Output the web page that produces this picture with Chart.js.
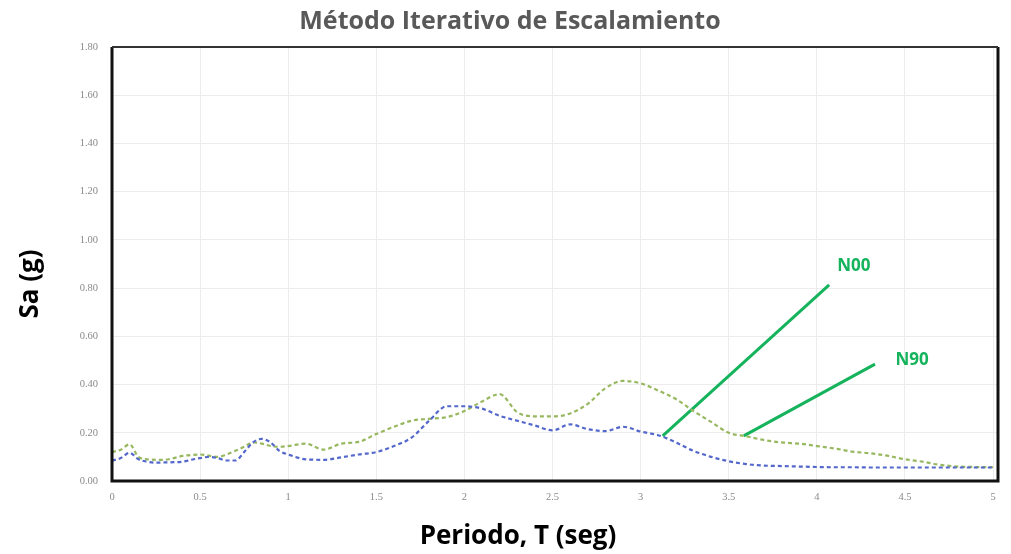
<!DOCTYPE html>
<html>
<head>
<meta charset="utf-8">
<script src="https://cdn.jsdelivr.net/npm/chart.js@4/dist/chart.umd.min.js"></script>
<style>
  html, body { margin: 0; padding: 0; background: #ffffff; }
  #wrap { width: 1011px; height: 554px; position: relative; }
</style>
</head>
<body>
<div id="wrap"><canvas id="chart" width="1011" height="554"></canvas></div>
<script>
// Periods (s)
const periods = [0, 0.05, 0.10, 0.15, 0.20, 0.25, 0.30, 0.35, 0.40, 0.45, 0.50, 0.55, 0.60, 0.65, 0.70, 0.75, 0.80, 0.85, 0.90, 0.95, 1.00,
  1.1, 1.2, 1.3, 1.4, 1.5, 1.6, 1.7, 1.8, 1.9, 2.0, 2.1, 2.2, 2.3, 2.4, 2.5, 2.6, 2.7, 2.8, 2.9, 3.0,
  3.1, 3.2, 3.3, 3.4, 3.5, 3.6, 3.7, 3.8, 3.9, 4.0, 4.1, 4.2, 4.3, 4.4, 4.5, 4.6, 4.7, 4.8, 4.9, 5.0];

// Spectral acceleration Sa (g), component N00
const saN00 = [0.085, 0.095, 0.117, 0.090, 0.080, 0.076, 0.077, 0.078, 0.080, 0.088, 0.095, 0.100, 0.095, 0.085, 0.085, 0.120, 0.160, 0.175, 0.160, 0.125, 0.110,
  0.090, 0.088, 0.098, 0.110, 0.120, 0.145, 0.180, 0.250, 0.310, 0.310, 0.300, 0.270, 0.250, 0.230, 0.210, 0.235, 0.215, 0.207, 0.225, 0.205,
  0.190, 0.160, 0.125, 0.100, 0.082, 0.070, 0.064, 0.062, 0.060, 0.058, 0.057, 0.057, 0.056, 0.056, 0.056, 0.056, 0.056, 0.056, 0.056, 0.056];

// Spectral acceleration Sa (g), component N90
const saN90 = [0.120, 0.130, 0.152, 0.100, 0.090, 0.088, 0.088, 0.095, 0.104, 0.108, 0.110, 0.105, 0.100, 0.110, 0.125, 0.142, 0.160, 0.155, 0.145, 0.142, 0.145,
  0.155, 0.130, 0.155, 0.162, 0.195, 0.225, 0.250, 0.258, 0.265, 0.290, 0.330, 0.360, 0.285, 0.268, 0.268, 0.280, 0.320, 0.385, 0.415, 0.405,
  0.375, 0.340, 0.290, 0.245, 0.200, 0.185, 0.170, 0.160, 0.155, 0.145, 0.135, 0.122, 0.115, 0.105, 0.090, 0.080, 0.067, 0.060, 0.058, 0.057];

// Callout leaders: [start, end] as {x: period, y: Sa}
const leaderN00 = [{ x: 3.125, y: 0.187 }, { x: 4.07, y: 0.813 }];
const leaderN90 = [{ x: 3.585, y: 0.187 }, { x: 4.33, y: 0.485 }];
const calloutLabels = ['N00', 'N90'];
const calloutAnchors = [{ x: 4.21, y: 0.89 }, { x: 4.54, y: 0.50 }];

// Axis ticks
const xTicks = [0, 0.5, 1, 1.5, 2, 2.5, 3, 3.5, 4, 4.5, 5];
const yTicks = [0, 0.2, 0.4, 0.6, 0.8, 1.0, 1.2, 1.4, 1.6, 1.8];

const chartTitle = 'Método Iterativo de Escalamiento';
const xTitle = 'Periodo, T (seg)';
const yTitle = 'Sa (g)';

const toPoints = (xs, ys) => xs.map((x, i) => ({ x, y: ys[i] }));

const calloutColor = '#14b35c';

// Frame, titles and callout labels
const decorPlugin = {
  id: 'decor',
  afterDatasetsDraw(chart) {
    const { ctx, chartArea: a, scales } = chart;
    ctx.save();
    ctx.strokeStyle = '#111111';
    ctx.lineWidth = 3;
    ctx.beginPath();
    ctx.moveTo(a.left, a.top);
    ctx.lineTo(a.left, a.bottom);
    ctx.lineTo(a.right, a.bottom);
    ctx.lineTo(a.right, a.top);
    ctx.stroke();
    ctx.lineWidth = 2;
    ctx.strokeStyle = '#333333';
    ctx.beginPath();
    ctx.moveTo(a.left, a.top);
    ctx.lineTo(a.right, a.top);
    ctx.stroke();

    ctx.fillStyle = calloutColor;
    ctx.font = 'bold 17px "Open Sans", sans-serif';
    ctx.textAlign = 'center';
    ctx.textBaseline = 'middle';
    calloutLabels.forEach((t, i) => {
      const p = calloutAnchors[i];
      ctx.fillText(t, scales.x.getPixelForValue(p.x), scales.y.getPixelForValue(p.y));
    });
    ctx.restore();
  },
  afterDraw(chart) {
    const { ctx } = chart;
    ctx.save();
    ctx.textAlign = 'center';
    ctx.textBaseline = 'middle';
    ctx.fillStyle = '#595959';
    ctx.font = 'bold 25px "Open Sans", sans-serif';
    ctx.fillText(chartTitle, 510, 22);
    ctx.fillStyle = '#000000';
    ctx.font = 'bold 26px "Open Sans", sans-serif';
    ctx.fillText(xTitle, 518, 537);
    ctx.translate(31, 284);
    ctx.rotate(-Math.PI / 2);
    ctx.fillText(yTitle, 0, 0);
    ctx.restore();
  }
};

const lineStyle = (color) => ({
  borderColor: color,
  borderWidth: 2.2,
  borderDash: [4, 3],
  pointRadius: 0,
  tension: 0.4,
  cubicInterpolationMode: 'monotone',
  fill: false
});

new Chart(document.getElementById('chart'), {
  type: 'line',
  data: {
    datasets: [
      Object.assign({ label: 'N00', data: toPoints(periods, saN00) }, lineStyle('#5468cc')),
      Object.assign({ label: 'N90', data: toPoints(periods, saN90) }, lineStyle('#98b860')),
      { label: 'N00 leader', data: leaderN00, borderColor: calloutColor, borderWidth: 3, pointRadius: 0, tension: 0 },
      { label: 'N90 leader', data: leaderN90, borderColor: calloutColor, borderWidth: 3, pointRadius: 0, tension: 0 }
    ]
  },
  options: {
    responsive: false,
    animation: false,
    layout: { padding: { left: 0, right: 13, top: 47, bottom: 0 } },
    plugins: {
      legend: { display: false },
      tooltip: { enabled: false }
    },
    scales: {
      x: {
        type: 'linear',
        min: 0,
        max: 5.028,
        afterBuildTicks: (s) => { s.ticks = xTicks.map(v => ({ value: v })); },
        afterFit: (s) => { s.height = 73; },
        grid: { color: '#ececec', lineWidth: 1, drawTicks: false },
        border: { display: false },
        ticks: {
          padding: 10,
          color: '#8a8a8a',
          font: { family: '"Liberation Serif", serif', size: 10.5 },
          callback: (v) => String(v),
          maxRotation: 0
        }
      },
      y: {
        min: 0,
        max: 1.8,
        afterBuildTicks: (s) => { s.ticks = yTicks.map(v => ({ value: v })); },
        afterFit: (s) => { s.width = 112; },
        grid: { color: '#ececec', lineWidth: 1, drawTicks: false },
        border: { display: false },
        ticks: {
          padding: 14,
          color: '#8a8a8a',
          font: { family: '"Liberation Serif", serif', size: 10.5 },
          callback: (v) => Number(v).toFixed(2)
        }
      }
    }
  },
  plugins: [decorPlugin]
});
</script>
</body>
</html>
